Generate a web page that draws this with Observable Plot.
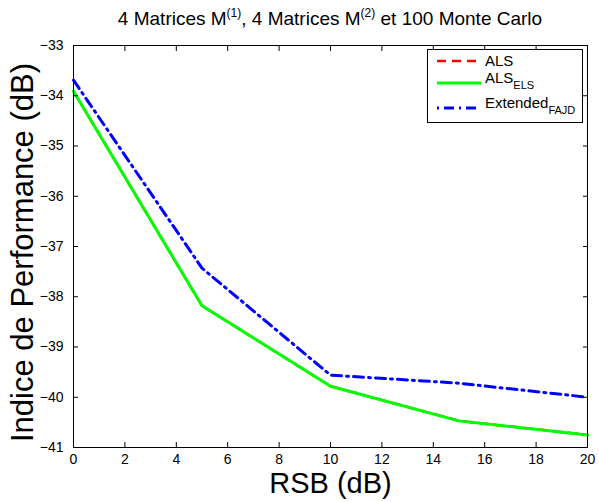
<!DOCTYPE html>
<html><head><meta charset="utf-8">
<script src="https://cdn.jsdelivr.net/npm/d3@7"></script>
<script src="https://cdn.jsdelivr.net/npm/@observablehq/plot@0.6"></script>
<style>
body{margin:0;background:#fff;font-family:"Liberation Sans",Arial,sans-serif;}
#wrap{position:relative;width:599px;height:502px;}
#title{position:absolute;left:73px;width:514px;top:8px;text-align:center;font-size:19px;color:#000;line-height:22px;white-space:nowrap;}
#title sup{font-size:12px;vertical-align:8px;line-height:0;}
#legend{position:absolute;left:427px;top:49px;}
</style></head><body>
<div id="wrap"><div id="chart"></div>
<div id="title">4 Matrices M<sup>(1)</sup>, 4 Matrices M<sup>(2)</sup> et 100 Monte Carlo</div>
<div id="legend"></div>
</div>
<script>
const rsb = [0, 5, 10, 15, 20];
const als = [-33.91, -38.18, -39.78, -40.47, -40.75];
const alsEls = [-33.91, -38.18, -39.78, -40.47, -40.75];
const fajd = [-33.69, -37.43, -39.56, -39.72, -40.0];
const xTicks = [0, 2, 4, 6, 8, 10, 12, 14, 16, 18, 20];
const yTicks = [-41, -40, -39, -38, -37, -36, -35, -34, -33];
const seriesNames = ["ALS", "ALS_ELS", "Extended_FAJD"];

const mk = (ys) => rsb.map((x, i) => ({x, y: ys[i]}));
const fmt = d => d < 0 ? "\u2212" + Math.abs(d) : String(d);

const chart = Plot.plot({
  width: 599, height: 502,
  marginLeft: 73, marginRight: 12, marginTop: 45, marginBottom: 55,
  style: {fontFamily: "'Liberation Sans', Arial, sans-serif", fontSize: "14px", color: "#000", background: "#fff", overflow: "visible"},
  x: {domain: [0, 20]},
  y: {domain: [-41, -33]},
  marks: [
    Plot.line(mk(als), {x: "x", y: "y", stroke: "#ff0000", strokeWidth: 2.5, strokeDasharray: "9,6"}),
    Plot.line(mk(alsEls), {x: "x", y: "y", stroke: "#00ff00", strokeWidth: 3}),
    Plot.line(mk(fajd), {x: "x", y: "y", stroke: "#0000ff", strokeWidth: 3, strokeDasharray: "10,5,2,5"}),
    Plot.frame({stroke: "#000", strokeWidth: 1}),
    Plot.axisX({ticks: xTicks, tickSize: 0, tickPadding: 7, tickFormat: fmt, label: null, fontSize: 14}),
    Plot.axisX({ticks: xTicks, tickSize: -5, tickFormat: () => "", label: null}),
    Plot.axisX({ticks: xTicks, anchor: "top", tickSize: -5, tickFormat: () => "", label: null}),
    Plot.axisY({ticks: yTicks, tickSize: 0, tickPadding: 10, tickFormat: fmt, label: null, fontSize: 14}),
    Plot.axisY({ticks: yTicks, tickSize: -5, tickFormat: () => "", label: null}),
    Plot.axisY({ticks: yTicks, anchor: "right", tickSize: -5, tickFormat: () => "", label: null}),
    Plot.text(["RSB (dB)"], {frameAnchor: "bottom", dy: 36, lineAnchor: "middle", textAnchor: "middle", fontSize: 29, fill: "#000"}),
    Plot.text(["Indice de Performance (dB)"], {frameAnchor: "left", dx: -50, dy: 6, rotate: -90, textAnchor: "middle", lineAnchor: "middle", fontSize: 31, fill: "#000"})
  ]
});
document.getElementById("chart").appendChild(chart);

// legend
const lg = d3.select("#legend").append("svg").attr("width", 157).attr("height", 75)
  .style("font-family", "'Liberation Sans', Arial, sans-serif");
lg.append("rect").attr("x", 0.5).attr("y", 0.5).attr("width", 155).attr("height", 73)
  .attr("fill", "#fff").attr("stroke", "#000");
const styles = [
  {stroke: "#ff0000", dash: "9,6", w: 2.5},
  {stroke: "#00ff00", dash: null, w: 3},
  {stroke: "#0000ff", dash: "2,5,10,5", w: 3}
];
const rowY = [12, 34, 59];
seriesNames.forEach((name, i) => {
  const yy = rowY[i];
  lg.append("line").attr("x1", 10).attr("x2", 54).attr("y1", yy).attr("y2", yy)
    .attr("stroke", styles[i].stroke).attr("stroke-width", styles[i].w)
    .attr("stroke-dasharray", styles[i].dash);
  const [main, sub] = name.split("_");
  const t = lg.append("text").attr("x", 58).attr("y", sub ? yy : yy + 5).attr("font-size", 15).attr("fill", "#000");
  t.append("tspan").text(main);
  if (sub) t.append("tspan").attr("dy", 6).attr("font-size", 11).text(sub);
});
</script>
</body></html>
